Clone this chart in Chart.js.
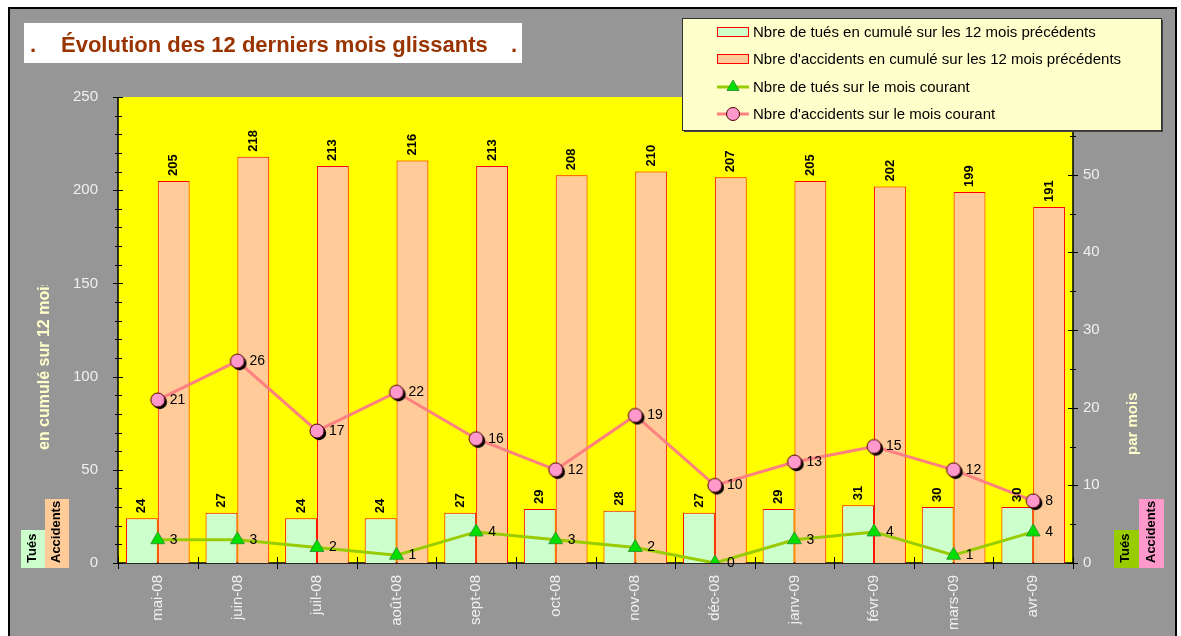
<!DOCTYPE html>
<html lang="fr">
<head>
<meta charset="utf-8">
<title>Évolution des 12 derniers mois glissants</title>
<script src="https://cdn.jsdelivr.net/npm/chart.js@4.4.1/dist/chart.umd.min.js"></script>
<style>
    html, body { margin: 0; padding: 0; background: #fff; }
    canvas { display: block; }
</style>
</head>
<body>
<canvas id="chart" width="1181" height="636"></canvas>
<script>
const months = ['mai-08', 'juin-08', 'juil-08', 'août-08', 'sept-08', 'oct-08', 'nov-08', 'déc-08', 'janv-09', 'févr-09', 'mars-09', 'avr-09'];
const tuesCumul = [24, 27, 24, 24, 27, 29, 28, 27, 29, 31, 30, 30];
const accidentsCumul = [205, 218, 213, 216, 213, 208, 210, 207, 205, 202, 199, 191];
const tuesMois = [3, 3, 2, 1, 4, 3, 2, 0, 3, 4, 1, 4];
const accidentsMois = [21, 26, 17, 22, 16, 12, 19, 10, 13, 15, 12, 8];
const seriesNames = [
    'Nbre de tués en cumulé sur les 12 mois précédents',
    "Nbre d'accidents en cumulé sur les 12 mois précédents",
    'Nbre de tués sur le mois courant',
    "Nbre d'accidents sur le mois courant",
];

const FONT = 'Arial, "Liberation Sans", sans-serif';
const gray = '#969696';
const tickColor = '#F0F0F0';

// cercle rose avec ombre portée (marqueur des accidents du mois)
function makeCircle() {
    const c = document.createElement('canvas');
    c.width = 24;
    c.height = 24;
    const g = c.getContext('2d');
    g.fillStyle = '#000';
    g.beginPath();
    g.arc(14, 14, 7.2, 0, Math.PI * 2);
    g.fill();
    g.fillStyle = '#FF99CC';
    g.strokeStyle = '#4D0000';
    g.lineWidth = 1;
    g.beginPath();
    g.arc(12, 12, 7, 0, Math.PI * 2);
    g.fill();
    g.stroke();
    return c;
}
const circleImg = makeCircle();

function triangle(ctx, x, y, r) {
    ctx.beginPath();
    ctx.moveTo(x, y - r);
    ctx.lineTo(x + Math.sin(2 * Math.PI / 3) * r, y - Math.cos(2 * Math.PI / 3) * r);
    ctx.lineTo(x + Math.sin(4 * Math.PI / 3) * r, y - Math.cos(4 * Math.PI / 3) * r);
    ctx.closePath();
    ctx.fillStyle = '#00E000';
    ctx.strokeStyle = '#339933';
    ctx.lineWidth = 1;
    ctx.fill();
    ctx.stroke();
}

function vText(ctx, text, x, y, font, color) {
    ctx.save();
    ctx.translate(x, y);
    ctx.rotate(-Math.PI / 2);
    ctx.font = font;
    ctx.fillStyle = color;
    ctx.textAlign = 'left';
    ctx.textBaseline = 'middle';
    ctx.fillText(text, 0, 0);
    ctx.restore();
}

const framePlugin = {
    id: 'frame',
    beforeDraw(chart) {
        const { ctx, chartArea: a } = chart;
        ctx.save();
        ctx.fillStyle = '#fff';
        ctx.fillRect(0, 0, chart.width, chart.height);
        ctx.fillStyle = gray;
        ctx.fillRect(9, 8, 1168, 640);
        ctx.strokeStyle = '#000';
        ctx.lineWidth = 2;
        ctx.beginPath();
        ctx.moveTo(9, 640);
        ctx.lineTo(9, 8);
        ctx.lineTo(1176, 8);
        ctx.lineTo(1176, 640);
        ctx.stroke();
        ctx.fillStyle = '#FFFF00';
        ctx.fillRect(a.left, a.top, a.right - a.left, a.bottom - a.top);
        ctx.restore();
    },
    beforeDatasetsDraw(chart) {
        const { ctx, chartArea: a, scales } = chart;
        ctx.save();
        ctx.strokeStyle = '#000';
        ctx.lineWidth = 1;
        ctx.beginPath();
        for (let v = 0; v <= 250; v += 10) {
            const y = Math.round(scales.y.getPixelForValue(v)) + 0.5;
            const big = v % 50 === 0;
            ctx.moveTo(a.left - (big ? 5 : 3), y);
            ctx.lineTo(a.left + (big ? 5 : 4), y);
        }
        for (let v = 0; v <= 60; v += 5) {
            const y = Math.round(scales.y1.getPixelForValue(v)) + 0.5;
            const big = v % 10 === 0;
            ctx.moveTo(a.right - (big ? 5 : 3), y);
            ctx.lineTo(a.right + (big ? 5 : 3), y);
        }
        const half = (scales.x.getPixelForValue(1) - scales.x.getPixelForValue(0)) / 2;
        for (let i = 0; i <= months.length; i++) {
            const x = Math.round(scales.x.getPixelForValue(i) - half) + 0.5;
            ctx.moveTo(x, a.bottom - 6);
            ctx.lineTo(x, a.bottom + 6);
        }
        ctx.stroke();
        ctx.lineWidth = 1.5;
        ctx.beginPath();
        ctx.moveTo(a.left, a.top);
        ctx.lineTo(a.left, a.bottom);
        ctx.lineTo(a.right, a.bottom);
        ctx.lineTo(a.right, a.top);
        ctx.stroke();
        ctx.restore();
    },
};

const valueLabels = {
    id: 'valueLabels',
    afterDatasetsDraw(chart) {
        const { ctx } = chart;
        ctx.save();
        chart.data.datasets.forEach((ds, di) => {
            const meta = chart.getDatasetMeta(di);
            meta.data.forEach((el, i) => {
                const v = ds.data[i];
                if (ds.type === 'bar') {
                    vText(ctx, String(v), el.x, el.y - 5, 'bold 13px ' + FONT, '#000');
                } else {
                    ctx.font = '14px ' + FONT;
                    ctx.fillStyle = '#000';
                    ctx.textAlign = 'left';
                    ctx.textBaseline = 'middle';
                    ctx.fillText(String(v), el.x + 12, el.y);
                }
            });
        });
        ctx.restore();
    },
};

const decorPlugin = {
    id: 'decor',
    afterDraw(chart) {
        const { ctx } = chart;
        const ds = chart.data.datasets;
        ctx.save();

        // titre
        ctx.fillStyle = '#fff';
        ctx.fillRect(24, 23, 498, 40);
        ctx.font = 'bold 22px ' + FONT;
        ctx.fillStyle = '#993300';
        ctx.textAlign = 'left';
        ctx.textBaseline = 'alphabetic';
        ctx.fillText('.', 30, 52);
        ctx.fillText('Évolution des 12 derniers mois glissants', 61, 52);
        ctx.fillText('.', 511, 52);

        // légende
        ctx.fillStyle = '#444';
        ctx.fillRect(684, 20, 479, 112);
        ctx.fillStyle = '#FFFFCC';
        ctx.fillRect(682, 18, 479, 112);
        ctx.strokeStyle = '#333';
        ctx.lineWidth = 1;
        ctx.strokeRect(682.5, 18.5, 479, 112);
        const rows = [32, 59, 87, 114];
        ctx.font = '15px ' + FONT;
        ctx.textBaseline = 'middle';
        for (let i = 0; i < 4; i++) {
            const y = rows[i];
            if (i < 2) {
                ctx.fillStyle = ds[i].backgroundColor;
                ctx.fillRect(717, y - 5, 32, 10);
                ctx.strokeStyle = ds[i].borderColor;
                ctx.strokeRect(717.5, y - 4.5, 31, 9);
            } else {
                ctx.strokeStyle = ds[i].borderColor;
                ctx.lineWidth = 3;
                ctx.beginPath();
                ctx.moveTo(717, y);
                ctx.lineTo(749, y);
                ctx.stroke();
                ctx.lineWidth = 1;
                if (i === 2) {
                    triangle(ctx, 733, y, 7);
                } else {
                    ctx.fillStyle = '#FF99CC';
                    ctx.strokeStyle = '#4D0000';
                    ctx.beginPath();
                    ctx.arc(733, y, 6.5, 0, Math.PI * 2);
                    ctx.fill();
                    ctx.stroke();
                }
            }
            ctx.fillStyle = '#000';
            ctx.fillText(seriesNames[i], 753, y + 1);
        }

        // titres des axes
        ctx.save();
        ctx.beginPath();
        ctx.rect(0, 285, 118, 300);
        ctx.clip();
        vText(ctx, 'en cumulé sur 12 mois', 45, 450, 'bold 16px ' + FONT, '#FFFFCC');
        ctx.restore();
        vText(ctx, 'par mois', 1133, 455, 'bold 15px ' + FONT, '#FFFFCC');

        // pastilles
        ctx.fillStyle = '#CCFFCC';
        ctx.fillRect(21, 530, 24, 38);
        ctx.fillStyle = '#FFCC99';
        ctx.fillRect(45, 499, 24, 69);
        ctx.fillStyle = '#99CC00';
        ctx.fillRect(1114, 530, 25, 38);
        ctx.fillStyle = '#FF99CC';
        ctx.fillRect(1139, 499, 25, 69);
        const bf = 'bold 13px ' + FONT;
        vText(ctx, 'Tués', 32, 563, bf, '#000');
        vText(ctx, 'Accidents', 56, 563, bf, '#000');
        vText(ctx, 'Tués', 1125, 563, bf, '#000');
        vText(ctx, 'Accidents', 1151, 563, bf, '#000');

        ctx.restore();
    },
};

const ctx = document.getElementById('chart').getContext('2d');
Chart.defaults.font.family = FONT;

new Chart(ctx, {
    data: {
        labels: months,
        datasets: [
            {
                type: 'bar',
                label: seriesNames[0],
                data: tuesCumul,
                yAxisID: 'y',
                backgroundColor: '#CCFFCC',
                borderColor: '#FF0000',
                borderWidth: 1,
                order: 2,
            },
            {
                type: 'bar',
                label: seriesNames[1],
                data: accidentsCumul,
                yAxisID: 'y',
                backgroundColor: '#FFCC99',
                borderColor: '#FF0000',
                borderWidth: 1,
                order: 2,
            },
            {
                type: 'line',
                label: seriesNames[2],
                data: tuesMois,
                yAxisID: 'y1',
                borderColor: '#99CC00',
                borderWidth: 3,
                pointStyle: 'triangle',
                pointRadius: 8,
                pointBackgroundColor: '#00E000',
                pointBorderColor: '#339933',
                pointBorderWidth: 1,
                tension: 0,
                order: 1,
            },
            {
                type: 'line',
                label: seriesNames[3],
                data: accidentsMois,
                yAxisID: 'y1',
                borderColor: '#FF8080',
                borderWidth: 3,
                pointStyle: circleImg,
                pointRadius: 8,
                tension: 0,
                order: 0,
            },
        ],
    },
    options: {
        responsive: false,
        animation: false,
        layout: { padding: { top: 97, left: 0, right: 0, bottom: 0 } },
        datasets: {
            bar: { categoryPercentage: 0.8, barPercentage: 1.0 },
        },
        plugins: {
            legend: { display: false },
            tooltip: { enabled: false },
        },
        scales: {
            x: {
                grid: { display: false, drawTicks: false },
                border: { display: false },
                ticks: {
                    color: tickColor,
                    font: { size: 15 },
                    minRotation: 90,
                    maxRotation: 90,
                    autoSkip: false,
                    padding: 12,
                },
                afterFit(s) { s.height = 73; },
            },
            y: {
                position: 'left',
                min: 0,
                max: 250,
                grid: { display: false, drawTicks: false },
                border: { display: false },
                ticks: { stepSize: 50, color: tickColor, font: { size: 15 }, padding: 20 },
                afterFit(s) { s.width = 118; },
            },
            y1: {
                position: 'right',
                min: 0,
                max: 60,
                grid: { display: false, drawTicks: false },
                border: { display: false },
                ticks: { stepSize: 10, color: tickColor, font: { size: 15 }, padding: 10 },
                afterFit(s) { s.width = 108; },
            },
        },
    },
    plugins: [framePlugin, valueLabels, decorPlugin],
});
</script>
</body>
</html>
